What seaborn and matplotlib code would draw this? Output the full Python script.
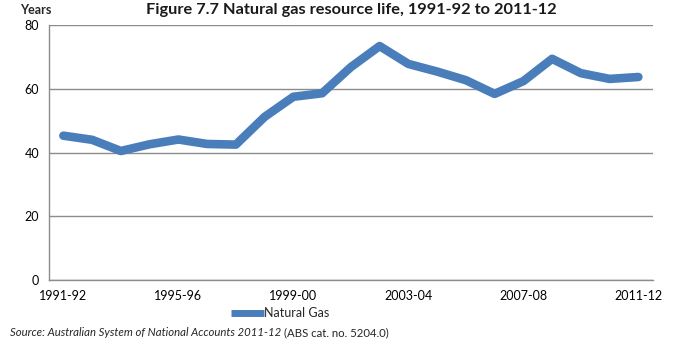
import matplotlib
matplotlib.use("Agg")
import matplotlib.pyplot as plt
import seaborn as sns
import pandas as pd

years = ["1991-92", "1992-93", "1993-94", "1994-95", "1995-96", "1996-97", "1997-98",
         "1998-99", "1999-00", "2000-01", "2001-02", "2002-03", "2003-04", "2004-05",
         "2005-06", "2006-07", "2007-08", "2008-09", "2009-10", "2010-11", "2011-12"]
natural_gas = [45.3, 44.0, 40.5, 42.6, 44.1, 42.7, 42.5, 51.2, 57.5, 58.6, 66.8, 73.4,
               67.8, 65.4, 62.7, 58.4, 62.4, 69.4, 64.9, 63.1, 63.7]
tick_labels = ["1991-92", "1995-96", "1999-00", "2003-04", "2007-08", "2011-12"]
y_ticks = [0, 20, 40, 60, 80]

sns.set_theme(style="white")
plt.rcParams['font.family'] = ['Lato', 'DejaVu Sans']

df = pd.DataFrame({"pos": range(len(years)), "year": years, "value": natural_gas})

fig = plt.figure(figsize=(6.75, 3.45), dpi=100)
ax = fig.add_axes([0.0726, 0.188, 0.8944, 0.7395])

sns.lineplot(data=df, x="pos", y="value", ax=ax, color="#4a7ebb", linewidth=6.2,
             solid_capstyle="round", solid_joinstyle="round", label="Natural Gas")

ax.set_xlim(-0.5, len(years) - 0.5)
ax.set_ylim(0, 80)
ax.set_yticks(y_ticks)
ax.set_xticks([years.index(t) for t in tick_labels])
ax.set_xticklabels(tick_labels)
ax.set_xlabel("")
ax.set_ylabel("")
ax.grid(axis="y", color="#8c8c8c", linewidth=1.0)
ax.set_axisbelow(True)
for s in ["top", "right"]:
    ax.spines[s].set_visible(False)
for s in ["left", "bottom"]:
    ax.spines[s].set_color("#8c8c8c")
    ax.spines[s].set_linewidth(1.0)
ax.tick_params(axis="both", length=0, labelsize=9, colors="#000000", pad=7)

leg = ax.legend(loc="center", bbox_to_anchor=(0.415, 0.093), bbox_transform=fig.transFigure,
                frameon=False, fontsize=9, handlelength=2.6, handletextpad=0.0,
                borderpad=0)
for h in leg.get_lines():
    h.set_linewidth(5)
    h.set_solid_capstyle("butt")

fig.text(0.03, 0.97, "Years", fontsize=9, fontweight="bold", va="center", ha="left")
fig.text(0.521, 0.97, "Figure 7.7 Natural gas resource life, 1991-92 to 2011-12",
         fontsize=11.8, fontweight="bold", va="center", ha="center", color="#1a1a1a")

t1 = fig.text(0.015, 0.035, "Source: Australian System of National Accounts 2011-12",
              fontsize=8.2, style="italic", va="center", ha="left")
fig.canvas.draw()
bb = t1.get_window_extent(renderer=fig.canvas.get_renderer())
x_end = bb.x1 / fig.bbox.width
fig.text(x_end + 0.004, 0.035, "(ABS cat. no. 5204.0)", fontsize=8.2, va="center", ha="left")

fig.savefig("out.png", dpi=100)
